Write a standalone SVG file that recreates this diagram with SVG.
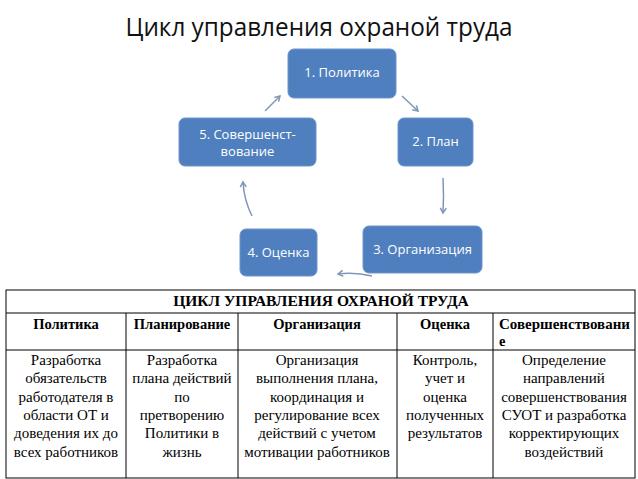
<svg xmlns="http://www.w3.org/2000/svg" width="638" height="479" viewBox="0 0 638 479">
<style>
.box{fill:#4f7fbe;stroke:#6e95cb;stroke-width:1}
.bt{font-family:"Open Sans","Liberation Sans",sans-serif;font-size:13px;fill:#ffffff;text-anchor:middle}
.arr{fill:none;stroke:#7f96b8;stroke-width:1.5;marker-end:url(#ah)}
.tl{stroke:#000;stroke-width:1;fill:none}
.th{font-family:"Liberation Serif",serif;font-weight:bold;font-size:14.5px;fill:#000}
.td{font-family:"Liberation Serif",serif;font-size:15px;fill:#000;text-anchor:middle}
</style>
<defs>
<marker id="ah" markerWidth="8" markerHeight="8" refX="6" refY="4" orient="auto" markerUnits="userSpaceOnUse">
<path d="M1,1 L6,4 L1,7" fill="none" stroke="#7f96b8" stroke-width="1.5"/>
</marker>
</defs>
<rect width="638" height="479" fill="#ffffff"/>
<text x="319" y="36" font-family="Open Sans,Liberation Sans,sans-serif" font-size="25" fill="#111" text-anchor="middle" textLength="387" lengthAdjust="spacingAndGlyphs">Цикл управления охраной труда</text>

<g id="connectors">
<path class="arr" d="M402,96 L418,111"/>
<path class="arr" d="M443,178 Q444,196 443,213"/>
<path class="arr" d="M372,276 Q355,272 338,274"/>
<path class="arr" d="M252,216 Q244,200 243,182"/>
<path class="arr" d="M265,111 L280,96"/>
</g>

<g id="node1"><rect class="box" x="288" y="49" width="108" height="49" rx="6"/><text class="bt" x="342" y="77">1. Политика</text></g>
<g id="node2"><rect class="box" x="398" y="118" width="75" height="48" rx="6"/><text class="bt" x="435.5" y="146">2. План</text></g>
<g id="node3"><rect class="box" x="363" y="226" width="119" height="47" rx="6"/><text class="bt" x="422.5" y="254">3. Организация</text></g>
<g id="node4"><rect class="box" x="240" y="229" width="77" height="47" rx="6"/><text class="bt" x="278.5" y="257">4. Оценка</text></g>
<g id="node5"><rect class="box" x="179" y="118" width="137" height="48" rx="6"/><text class="bt" x="247.5" y="139">5. Совершенст-</text><text class="bt" x="247.5" y="156">вование</text></g>

<g id="table">
<rect class="tl" x="6" y="290" width="629" height="188"/>
<line class="tl" x1="6" y1="313" x2="635" y2="313"/>
<line class="tl" x1="6" y1="350" x2="635" y2="350"/>
<line class="tl" x1="126" y1="313" x2="126" y2="478"/>
<line class="tl" x1="238" y1="313" x2="238" y2="478"/>
<line class="tl" x1="397" y1="313" x2="397" y2="478"/>
<line class="tl" x1="493" y1="313" x2="493" y2="478"/>
<text class="th" x="321" y="306" text-anchor="middle" style="font-size:15.5px">ЦИКЛ УПРАВЛЕНИЯ ОХРАНОЙ ТРУДА</text>
<text class="th" x="66" y="329" text-anchor="middle">Политика</text>
<text class="th" x="182" y="329" text-anchor="middle">Планирование</text>
<text class="th" x="317" y="329" text-anchor="middle">Организация</text>
<text class="th" x="445" y="329" text-anchor="middle">Оценка</text>
<text class="th" x="499" y="329" text-anchor="start" textLength="131" lengthAdjust="spacingAndGlyphs">Совершенствовани</text>
<text class="th" x="499" y="346" text-anchor="start">е</text>
<g class="td">
<text x="66" y="365">Разработка</text>
<text x="66" y="383">обязательств</text>
<text x="66" y="402">работодателя в</text>
<text x="66" y="420">области ОТ и</text>
<text x="66" y="438">доведения  их до</text>
<text x="66" y="457">всех работников</text>
<text x="182" y="365">Разработка</text>
<text x="182" y="383">плана действий</text>
<text x="182" y="402">по</text>
<text x="182" y="420">претворению</text>
<text x="182" y="438">Политики в</text>
<text x="182" y="457">жизнь</text>
<text x="317" y="365">Организация</text>
<text x="317" y="383">выполнения  плана,</text>
<text x="317" y="402">координация  и</text>
<text x="317" y="420">регулирование всех</text>
<text x="317" y="438">действий  с учетом</text>
<text x="317" y="457">мотивации работников</text>
<text x="445" y="365">Контроль,</text>
<text x="445" y="383">учет и</text>
<text x="445" y="402">оценка</text>
<text x="445" y="420">полученных</text>
<text x="445" y="438">результатов</text>
<text x="564" y="365">Определение</text>
<text x="564" y="383">направлений</text>
<text x="564" y="402">совершенствования</text>
<text x="564" y="420">СУОТ и разработка</text>
<text x="564" y="438">корректирующих</text>
<text x="564" y="457">воздействий</text>
</g>
</g>
</svg>
